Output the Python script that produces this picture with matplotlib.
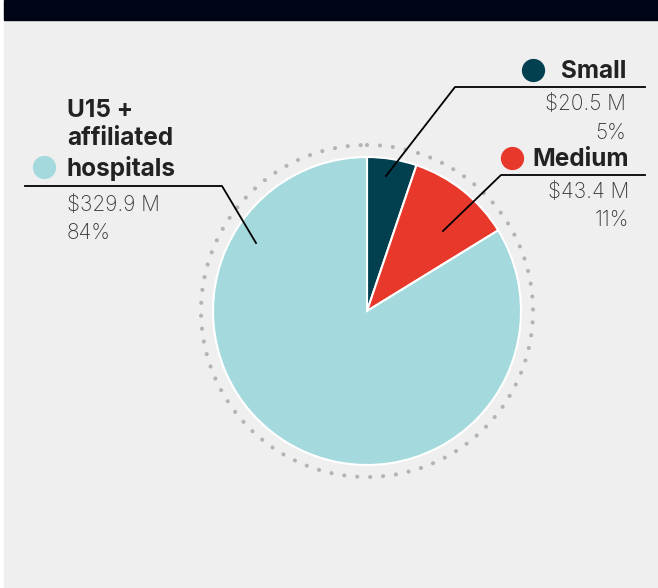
import matplotlib.pyplot as plt
from matplotlib.patches import Rectangle, Circle

# ----------------------
# Data
# ----------------------
names = ["Small", "Medium", "U15 +\naffiliated\nhospitals"]
amounts = [20.5, 43.4, 329.9]          # $ millions
shares = ["5%", "11%", "84%"]
colors = ["#02404f", "#e8382b", "#a4d9dd"]

W, H = 658, 588
fig = plt.figure(figsize=(W / 100, H / 100), dpi=100)
fig.patch.set_facecolor("white")
ax = fig.add_axes([0, 0, 1, 1])

# pie (y axis inverted -> counterclock in data = clockwise on screen)
cx, cy, r = 367, 311, 154
ax.pie(amounts, colors=colors, startangle=-90, counterclock=True,
       center=(cx, cy), radius=r, frame=True,
       wedgeprops=dict(edgecolor="white", linewidth=1.5, zorder=3))
ax.set_xlim(0, W)
ax.set_ylim(H, 0)          # pixel coords, y down
ax.set_aspect("equal")
ax.axis("off")

# background panel + top bar
ax.add_patch(Rectangle((4, 0), W - 4, H, color="#efefef", zorder=0))
ax.add_patch(Rectangle((4, 0), W - 4, 20, color="#000516", zorder=1))

ring = Circle((cx, cy), 166, fill=False, edgecolor="#b4b4b4", linewidth=3.0,
              linestyle=(0, (0.01, 3.1)), zorder=2)
ring.set_capstyle("round")
ax.add_patch(ring)

bold = dict(family="Inter", fontsize=17.5, fontweight="bold", color="#222222")
light = dict(family="Inter", fontsize=15, fontweight="light", color="#383838")
lk = dict(color="black", linewidth=1.3, zorder=4)

# Small
ax.plot([386, 455, 645], [176, 87, 87], **lk)
ax.scatter([533], [70], s=280, color=colors[0], zorder=5, linewidths=0)
ax.text(626, 71, names[0], ha="right", va="center", **bold)
ax.text(626, 104, f"${amounts[0]} M", ha="right", va="center", **light)
ax.text(626, 133, shares[0], ha="right", va="center", **light)

# Medium
ax.plot([443, 501, 645], [231, 175, 175], **lk)
ax.scatter([512], [158], s=280, color=colors[1], zorder=5, linewidths=0)
ax.text(629, 159, names[1], ha="right", va="center", **bold)
ax.text(629, 192, f"${amounts[1]} M", ha="right", va="center", **light)
ax.text(629, 220, shares[1], ha="right", va="center", **light)

# U15 + affiliated
ax.plot([25, 222, 256], [186, 186, 243], **lk)
ax.scatter([44], [167], s=280, color=colors[2], zorder=5, linewidths=0)
ax.text(67, 140, names[2], ha="left", va="center", linespacing=1.3, **bold)
ax.text(67, 205, f"${amounts[2]} M", ha="left", va="center", **light)
ax.text(67, 233, shares[2], ha="left", va="center", **light)

fig.savefig("out.png", dpi=100, facecolor=fig.get_facecolor())
